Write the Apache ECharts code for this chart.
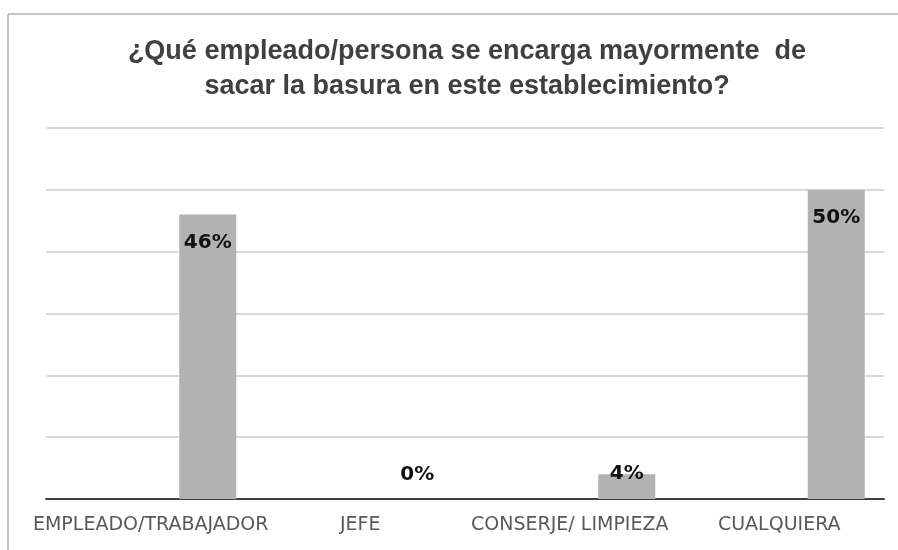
<!DOCTYPE html>
<html>
<head>
<meta charset="utf-8">
<script src="https://cdn.jsdelivr.net/npm/echarts@6/dist/echarts.min.js"></script>
<style>
  html, body { margin: 0; padding: 0; background: #ffffff; }
  #chart { width: 898px; height: 550px; }
</style>
</head>
<body>
<div id="chart"></div>
<script>
// Survey answers: who mostly takes out the trash in the establishment
const categories = ['EMPLEADO/TRABAJADOR', 'JEFE', 'CONSERJE/ LIMPIEZA', 'CUALQUIERA'];
const percentages = [46, 0, 4, 50];
const titleText = '¿Qué empleado/persona se encarga mayormente  de\nsacar la basura en este establecimiento?';

const chart = echarts.init(document.getElementById('chart'), null, { renderer: 'canvas' });

// Tall bars carry their label inside the top edge; short ones sit just above the axis
function labelPlacement(v) {
  if (v >= 20) return { position: 'insideTop', distance: 18 };
  if (v > 0) return { position: 'top', distance: -10 };
  return { position: 'top', distance: 14 };
}
const barData = percentages.map(v => ({ value: v, label: labelPlacement(v) }));

chart.setOption({
  animation: false,
  backgroundColor: '#ffffff',
  title: {
    text: titleText,
    left: 462,
    top: 29,
    textAlign: 'center',
    textStyle: {
      fontFamily: '"Liberation Sans", Arial, sans-serif',
      fontSize: 27,
      fontWeight: 'bold',
      color: '#404040',
      lineHeight: 35
    }
  },
  graphic: [
    { type: 'line', shape: { x1: 8, y1: 14, x2: 898, y2: 14 }, style: { stroke: '#c4c4c4', lineWidth: 2 } },
    { type: 'line', shape: { x1: 8, y1: 14, x2: 8, y2: 550 }, style: { stroke: '#c4c4c4', lineWidth: 2 } }
  ],
  grid: { left: 46, right: 14, top: 128, bottom: 51, containLabel: false },
  xAxis: {
    type: 'category',
    data: categories,
    axisTick: { show: false },
    axisLine: { show: true, lineStyle: { color: '#404040', width: 2 } },
    axisLabel: {
      interval: 0,
      margin: 17,
      fontFamily: '"DejaVu Sans", sans-serif',
      fontSize: 19,
      color: '#595959'
    }
  },
  yAxis: {
    type: 'value',
    min: 0,
    max: 60,
    interval: 10,
    axisLabel: { show: false },
    axisLine: { show: false },
    axisTick: { show: false },
    splitLine: { lineStyle: { color: '#d9d9d9', width: 2 } }
  },
  series: [
    // Two empty slots in each category push the drawn bar right of center
    { type: 'bar', data: [], barWidth: 57, barGap: '0%' },
    { type: 'bar', data: [], barWidth: 57, barGap: '0%' },
    {
      type: 'bar',
      data: barData,
      barWidth: 57,
      barGap: '0%',
      itemStyle: { color: '#b2b2b2' },
      label: {
        show: true,
        formatter: '{c}%',
        fontFamily: '"DejaVu Sans", sans-serif',
        fontSize: 20,
        fontWeight: 'bold',
        color: '#111111'
      }
    }
  ]
});
</script>
</body>
</html>
